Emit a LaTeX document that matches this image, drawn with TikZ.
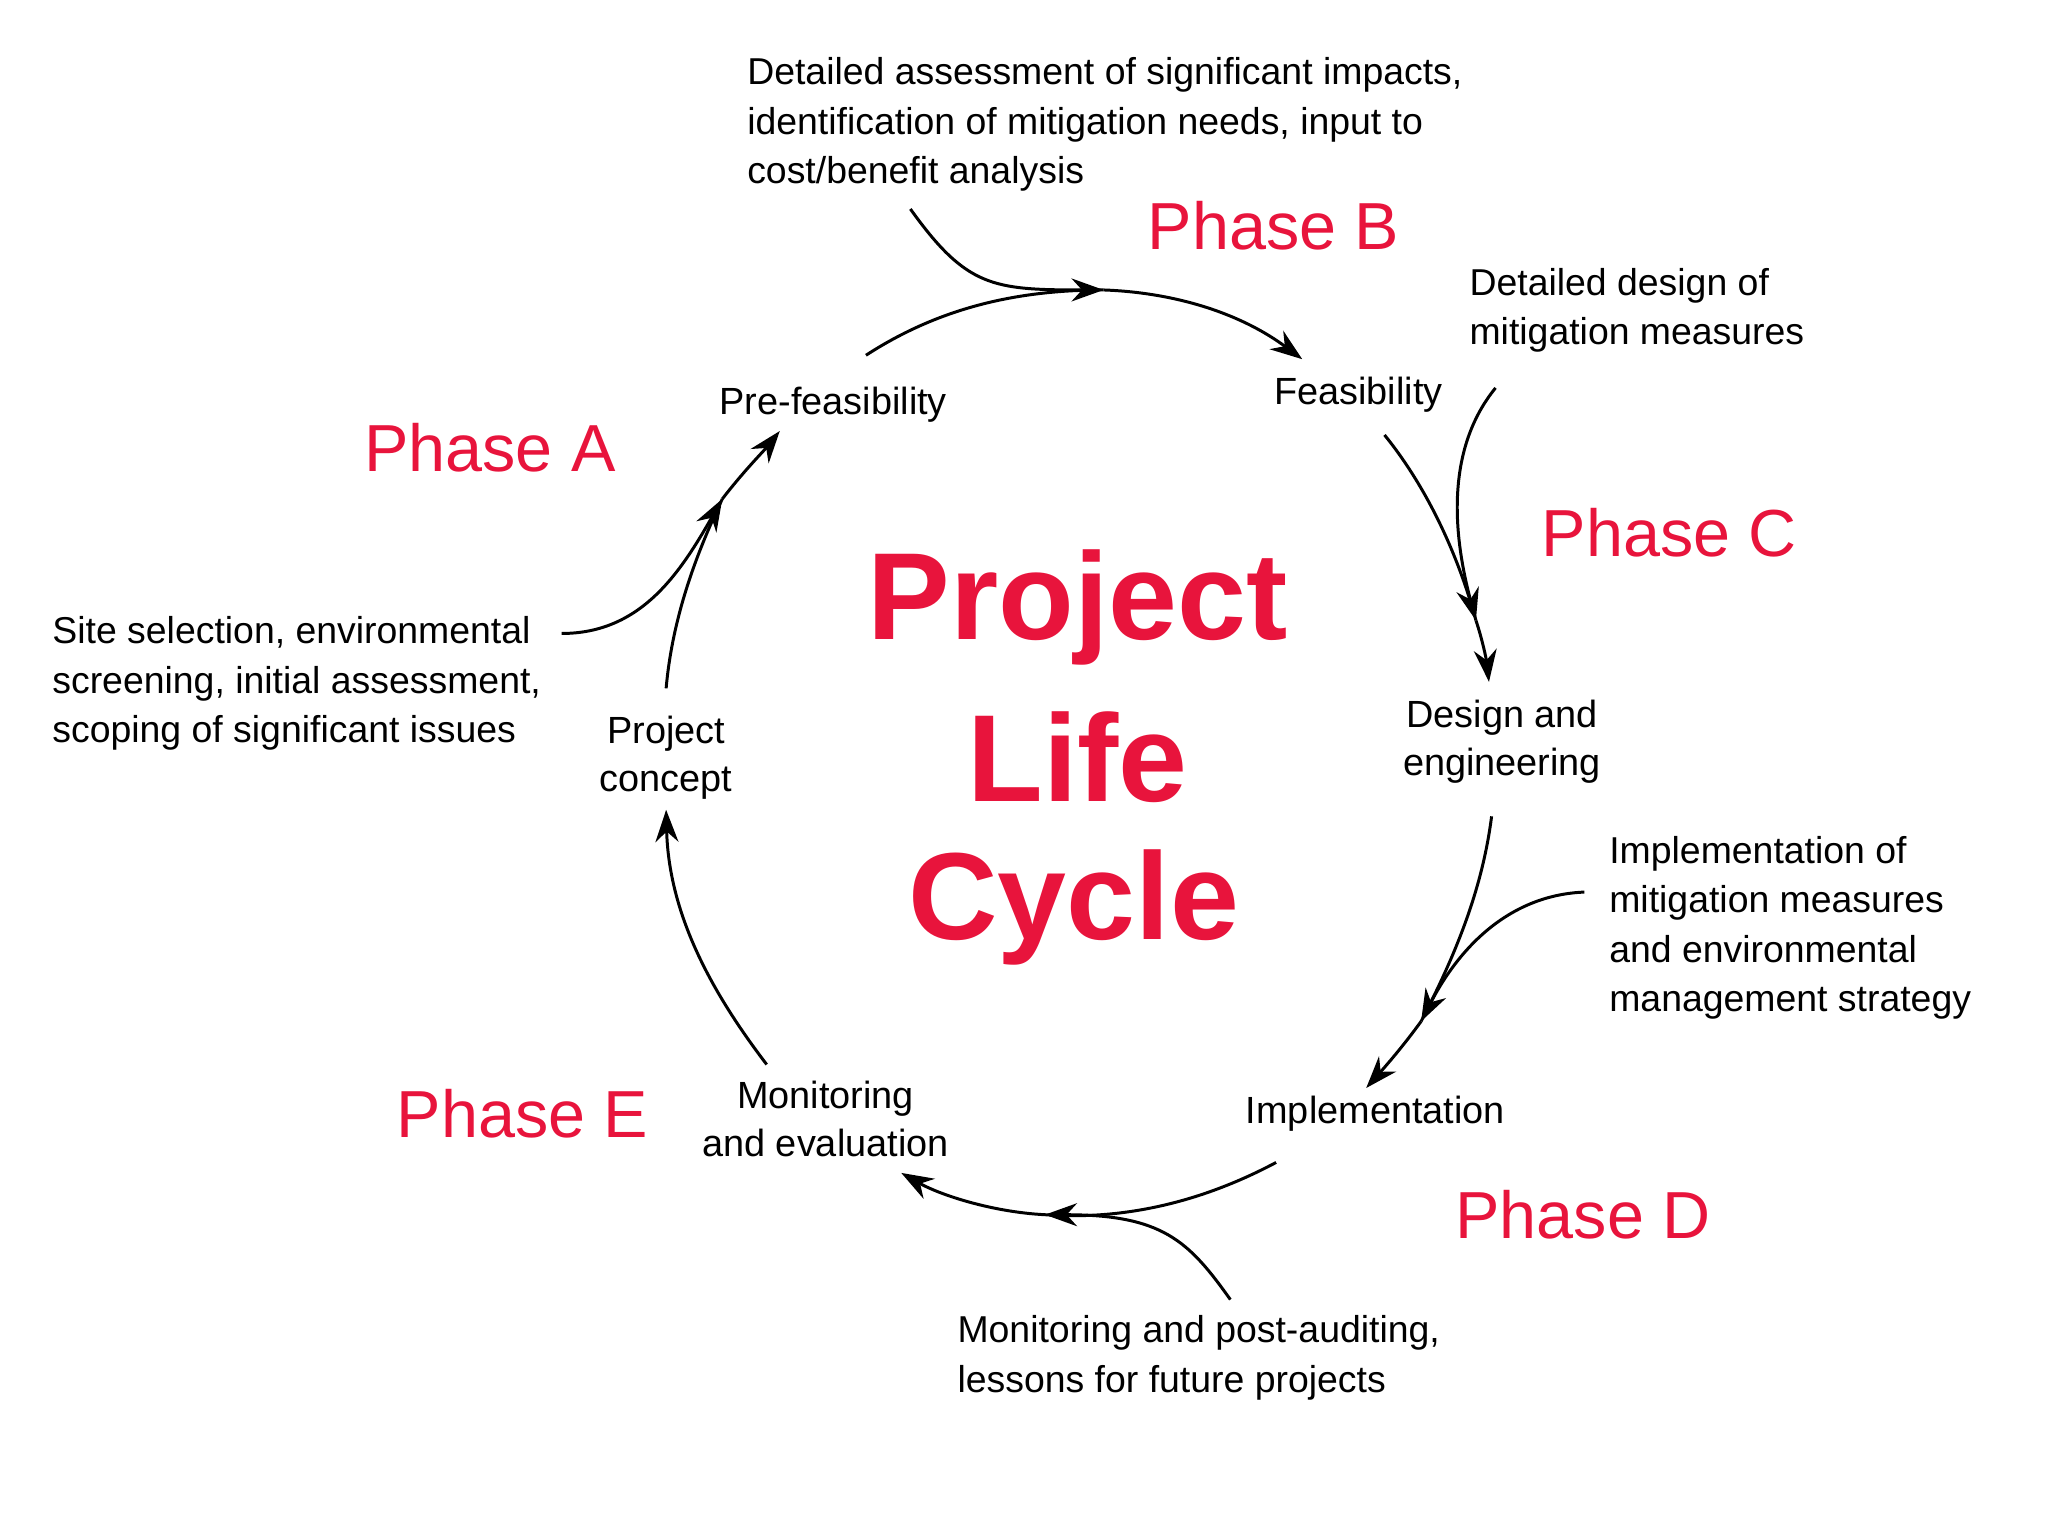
\documentclass[tikz,border=0pt]{standalone}
\usepackage{fontspec}
\setmainfont{Liberation Sans}
\usetikzlibrary{arrows.meta}
\definecolor{phred}{RGB}{232,20,60}
\begin{document}
\begin{tikzpicture}[x=0.02cm,y=-0.02cm,
  lab/.style={font=\fontsize{16.5}{21}\selectfont, align=center, inner sep=1pt},
  ann/.style={font=\fontsize{16.3}{21.6}\selectfont, align=left, inner sep=1pt, anchor=north west},
  phase/.style={font=\fontsize{29}{32}\selectfont, text=phred},
  big/.style={font=\fontsize{54}{56}\selectfont\bfseries, text=phred},
  con/.style={line width=1.3pt, -{Stealth[length=14pt,width=10pt]}},
  lin/.style={line width=1.3pt}]
\useasboundingbox (0,0) rectangle (1568,1176);
% stage nodes
\node[lab] (pre) at (638,310) {Pre-feasibility};
\node[lab] (fea) at (1040,302) {Feasibility};
\node[lab] (des) at (1150,568) {Design and\\engineering};
\node[lab] (imp) at (1053,853) {Implementation};
\node[lab] (mon) at (632,857) {Monitoring\\and evaluation};
\node[lab] (con) at (510,580) {Project\\concept};
% phases
\node[phase] (pa) at (375,343) {Phase A};
\node[phase] (pb) at (975,173) {Phase B};
\node[phase] (pc) at (1278,408) {Phase C};
\node[phase] (pd) at (1212,930) {Phase D};
\node[phase] (pe) at (400,853) {Phase E};
% title
\node[big] (t1) at (825,465) {Project};
\node[big] (t2) at (825,580) {Life};
\node[big] (t3) at (822,695) {Cycle};
% annotations
\node[ann] (aB) at (570,42) {Detailed assessment of significant impacts,\\identification of mitigation needs, input to\\cost/benefit analysis};
\node[ann] (aC) at (1123,203) {Detailed design of\\mitigation measures};
\node[ann] (aA) at (38,470) {Site selection, environmental\\screening, initial assessment,\\scoping of significant issues};
\node[ann] (aD) at (1230,638) {Implementation of\\mitigation measures\\and environmental\\management strategy};
\node[ann] (aE) at (731,1005) {Monitoring and post-auditing,\\lessons for future projects};
% merge points
\coordinate (mB) at (845,222);
\coordinate (mC) at (1130,475);
\coordinate (mD) at (1088,782);
\coordinate (mE) at (800,930);
\coordinate (mA) at (553,382);
% main cycle
\draw[lin] (663,272) .. controls (720,235) and (780,222) .. (mB);
\draw[con] (mB) .. controls (900,224) and (950,240) .. (997,275);
\draw[lin] (1060,333) .. controls (1090,370) and (1115,420) .. (mC);
\draw[con] (mC) .. controls (1135,490) and (1138,505) .. (1140,522);
\draw[lin] (1142,625) .. controls (1135,680) and (1115,730) .. (mD);
\draw[con] (mD) .. controls (1075,800) and (1062,815) .. (1046,833);
\draw[lin] (977,890) .. controls (930,915) and (870,935) .. (mE);
\draw[con] (mE) .. controls (760,928) and (720,915) .. (690,898);
\draw[con] (587,815) .. controls (545,760) and (512,700) .. (510,620);
\draw[lin] (510,527) .. controls (515,470) and (535,420) .. (mA);
\draw[con] (mA) .. controls (570,360) and (585,345) .. (597,330);
% annotation arrows
\draw[con] (697,160) .. controls (740,220) and (760,222) .. (mB);
\draw[con] (1145,297) .. controls (1110,340) and (1110,400) .. (mC);
\draw[con] (1213,683) .. controls (1160,685) and (1120,720) .. (mD);
\draw[con] (942,995) .. controls (910,950) and (890,930) .. (mE);
\draw[con] (430,485) .. controls (490,485) and (520,440) .. (mA);
\end{tikzpicture}
\end{document}
